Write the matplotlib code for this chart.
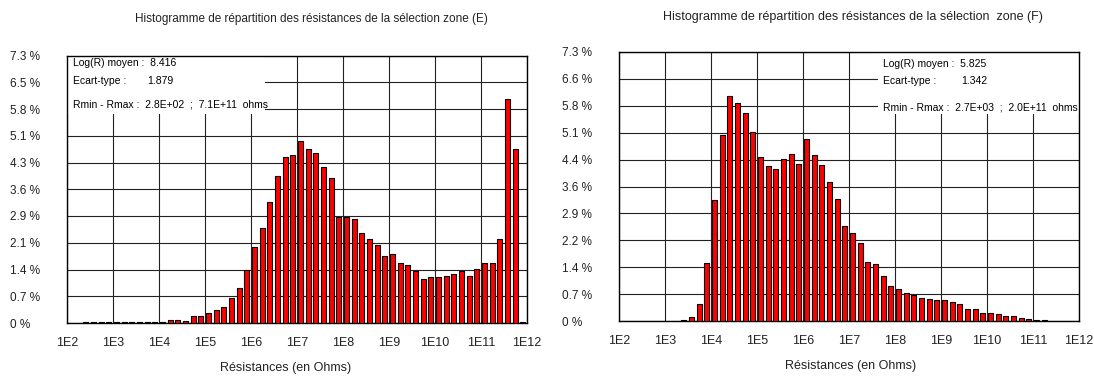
import numpy as np
import matplotlib
matplotlib.use("Agg")
import matplotlib.pyplot as plt
from matplotlib.patches import Rectangle

plt.rcParams["font.family"] = ["Liberation Sans", "DejaVu Sans"]

# classes de 1/6 de décade, de 1E2 à 1E12 (60 classes)
decades = list(range(2, 13))
per_decade = 6

pct_e = [0, 0, 0.015, 0.015, 0.015, 0.015, 0.015, 0.015, 0.04, 0.04,
         0.04, 0.04, 0.04, 0.08, 0.08, 0.05, 0.19, 0.19, 0.27, 0.35,
         0.43, 0.69, 0.95, 1.44, 2.07, 2.6, 3.29, 4.0, 4.53, 4.58,
         4.96, 4.76, 4.65, 4.26, 3.95, 2.9, 2.9, 2.83, 2.45, 2.3,
         2.12, 1.83, 1.88, 1.65, 1.57, 1.43, 1.2, 1.25, 1.25, 1.28,
         1.35, 1.43, 1.28, 1.48, 1.65, 1.63, 2.3, 6.1, 4.74, 0.04]

pct_f = [0, 0, 0, 0, 0, 0, 0, 0, 0.03, 0.12,
         0.46, 1.57, 3.28, 5.05, 6.1, 5.91, 5.65, 5.13, 4.46, 4.21,
         4.12, 4.4, 4.53, 4.25, 4.93, 4.51, 4.22, 3.78, 3.32, 2.58,
         2.4, 2.12, 1.6, 1.55, 1.23, 0.96, 0.86, 0.75, 0.71, 0.62,
         0.59, 0.57, 0.57, 0.51, 0.47, 0.33, 0.33, 0.23, 0.23, 0.18,
         0.13, 0.13, 0.07, 0.05, 0.02, 0.02, 0, 0, 0, 0]

ylabels_e = ["0 %", "0.7 %", "1.4 %", "2.1 %", "2.9 %", "3.6 %",
             "4.3 %", "5.1 %", "5.8 %", "6.5 %", "7.3 %"]
ylabels_f = ["0 %", "0.7 %", "1.4 %", "2.2 %", "2.9 %", "3.6 %",
             "4.4 %", "5.1 %", "5.8 %", "6.6 %", "7.3 %"]

stats_e = ("8.416", "1.879", "2.8E+02", "7.1E+11")
stats_f = ("5.825", "1.342", "2.7E+03", "2.0E+11")

ymax = 7.3

fig = plt.figure(figsize=(10.94, 3.76), dpi=100)
ax_e = fig.add_axes([67 / 1094, 53 / 376, 460 / 1094, 267.5 / 376])
ax_f = fig.add_axes([619 / 1094, 55 / 376, 460 / 1094, 269 / 376])


def histo(ax, pct, ylabels, stats, box):
    pct = np.array(pct, dtype=float)
    idx = np.arange(len(pct))
    keep = pct > 0
    lo = 10.0 ** (decades[0] + (idx + 0.14) / per_decade)
    hi = 10.0 ** (decades[0] + (idx + 0.80) / per_decade)
    lo_s = 10.0 ** (decades[0] + (idx + 0.26) / per_decade)
    hi_s = 10.0 ** (decades[0] + (idx + 0.90) / per_decade)
    # ombre grise puis barre rouge
    ax.bar(lo_s[keep], pct[keep], width=(hi_s - lo_s)[keep], align="edge",
           color="#8c8c8c", linewidth=0, zorder=2)
    ax.bar(lo[keep], pct[keep], width=(hi - lo)[keep], align="edge",
           color="#ff0000", edgecolor="black", linewidth=0.8, zorder=3)

    ax.set_xscale("log")
    ax.set_xlim(10.0 ** decades[0], 10.0 ** decades[-1])
    ax.set_ylim(0, ymax)
    ax.minorticks_off()
    ax.set_xticks([10.0 ** d for d in decades])
    ax.set_xticklabels(["1E%d" % d for d in decades], fontsize=9)
    ax.set_yticks(np.linspace(0, ymax, 11))
    ax.set_yticklabels(ylabels, fontsize=8.5)
    for lbl in ax.get_yticklabels():
        lbl.set_horizontalalignment("left")
    ax.tick_params(axis="y", length=0, pad=41, colors="#222222")
    ax.tick_params(axis="x", length=0, pad=10, colors="#222222")
    ax.grid(True, color="#222222", linewidth=0.8)
    ax.set_axisbelow(True)
    for sp in ax.spines.values():
        sp.set_color("black")
        sp.set_linewidth(1.0)

    # cadre des statistiques, sans quadrillage
    x0, y0, w, tx, vx, ys = box
    ax.add_patch(Rectangle((x0, y0), w, 1 - y0, transform=ax.transAxes,
                           facecolor="white", edgecolor="none", zorder=1))
    moy, ect, rmin, rmax = stats
    kw = dict(transform=ax.transAxes, fontsize=7.5, va="center", zorder=4)
    ax.text(tx, ys[0], "Log(R) moyen :  " + moy, **kw)
    ax.text(tx, ys[1], "Ecart-type :", **kw)
    ax.text(vx, ys[1], ect, **kw)
    ax.text(tx, ys[2], "Rmin - Rmax :  %s  ;  %s  ohms" % (rmin, rmax), **kw)


histo(ax_e, pct_e, ylabels_e, stats_e,
      (0.0, 0.781, 0.43, 0.013, 0.174, (0.972, 0.906, 0.815)))
histo(ax_f, pct_f, ylabels_f, stats_f,
      (0.563, 0.771, 0.437, 0.574, 0.743, (0.955, 0.892, 0.794)))

fig.text(311 / 1094, 1 - 19 / 376,
         "Histogramme de répartition des résistances de la sélection zone (E)",
         ha="center", va="center", fontsize=8.5, color="#222222")
fig.text(853 / 1094, 1 - 17 / 376,
         "Histogramme de répartition des résistances de la sélection  zone (F)",
         ha="center", va="center", fontsize=9, color="#222222")
fig.text(286 / 1094, 1 - 368 / 376, "Résistances (en Ohms)",
         ha="center", va="center", fontsize=9, color="#222222")
fig.text(851 / 1094, 1 - 366 / 376, "Résistances (en Ohms)",
         ha="center", va="center", fontsize=9, color="#222222")

fig.savefig("out.png", dpi=100)
